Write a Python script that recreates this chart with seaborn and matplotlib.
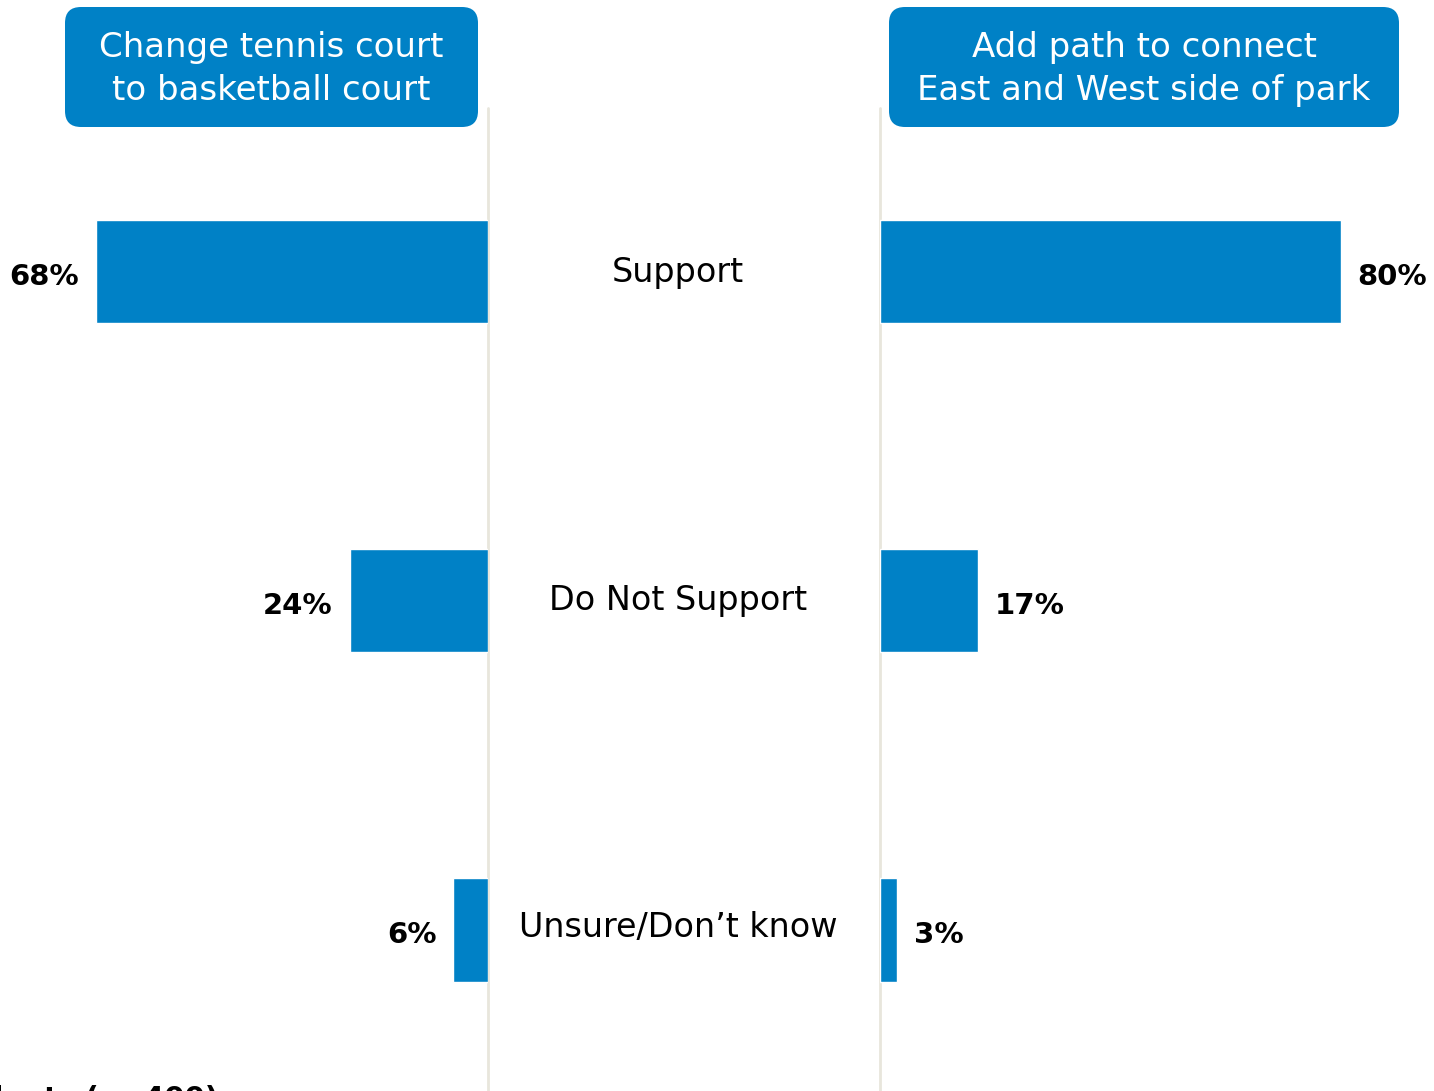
import matplotlib.pyplot as plt
import seaborn as sns
import pandas as pd
from matplotlib.patches import FancyBboxPatch

sns.set_style("white")
plt.rcParams["font.family"] = ["DejaVu Sans"]

categories = ["Support", "Do Not Support", "Unsure/Don\u2019t know"]
tennis_vals = [68, 24, 6]
path_vals = [80, 17, 3]
titles = ["Change tennis court\nto basketball court", "Add path to connect\nEast and West side of park"]
footnote = "Residents (n=400)"

BLUE = "#0081C6"
W, H = 1434, 1091

fig = plt.figure(figsize=(W / 100, H / 100), dpi=100)

def px_axes(x0, y0, x1, y1):
    # rectangle given in pixels from top-left
    return fig.add_axes([x0 / W, 1 - y1 / H, (x1 - x0) / W, (y1 - y0) / H])

ylim = (2.489, -0.497)
ax_l = px_axes(0, 108, 488, H)
ax_r = px_axes(880, 108, W, H)

df_l = pd.DataFrame({"cat": categories, "val": tennis_vals})
df_r = pd.DataFrame({"cat": categories, "val": path_vals})

sns.barplot(data=df_l, x="val", y="cat", ax=ax_l, color=BLUE, width=0.313,
            saturation=1, orient="h")
sns.barplot(data=df_r, x="val", y="cat", ax=ax_r, color=BLUE, width=0.313,
            saturation=1, orient="h")

ax_l.set_xlim(84.6, 0)
ax_r.set_xlim(0, 96.2)
for ax in (ax_l, ax_r):
    ax.set_ylim(*ylim)
    ax.set_xlabel("")
    ax.set_ylabel("")
    ax.set_xticks([])
    ax.set_yticks([])
    for s in ax.spines.values():
        s.set_visible(False)
    ax.patch.set_alpha(0)

for i, v in enumerate(tennis_vals):
    ax_l.text(v + 2.9, i + 0.04, f"{v}%", ha="right", va="baseline", fontsize=21,
              fontweight="bold", color="black")
for i, v in enumerate(path_vals):
    ax_r.text(v + 2.9, i + 0.04, f"{v}%", ha="left", va="baseline", fontsize=21,
              fontweight="bold", color="black")

# overlay in pixel coordinates for the headers, divider lines, centre labels
ov = fig.add_axes([0, 0, 1, 1], zorder=-1)
ov.set_xlim(0, W)
ov.set_ylim(H, 0)
ov.axis("off")

for x in (488, 880):
    ov.plot([x, x], [108, H], color="#E8E6DC", lw=2)

boxes = [(65, 478), (889, 1399)]
for (x0, x1), t in zip(boxes, titles):
    ov.add_patch(FancyBboxPatch((x0 + 16, 7 + 16), x1 - x0 - 32, 120 - 32,
                                boxstyle="round,pad=16", fc=BLUE, ec="none"))
    ov.text((x0 + x1) / 2, 69, t, ha="center", va="center", color="white",
            fontsize=24.5, linespacing=1.4)

label_base = [282, 610, 937]
for c, y in zip(categories, label_base):
    ov.text(678, y, c, ha="center", va="baseline", fontsize=24, color="black")

ov.text(218, 1085, footnote, ha="right", va="top", fontsize=21,
        fontweight="bold", color="black")

plt.savefig("out.png", dpi=100)
